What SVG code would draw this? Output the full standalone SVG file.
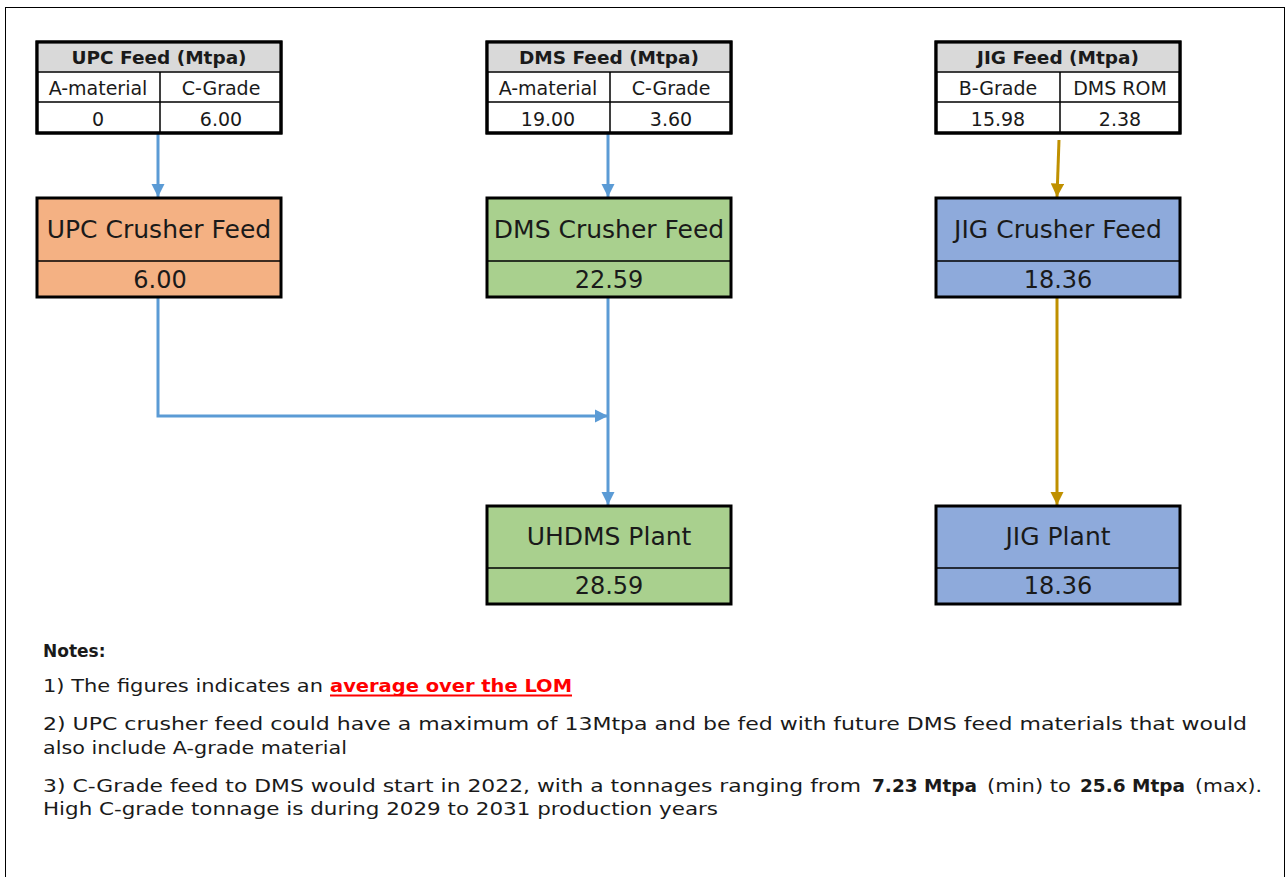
<svg xmlns="http://www.w3.org/2000/svg" width="1287" height="877" viewBox="0 0 1287 877">
<defs>
<style>
text{font-family:"DejaVu Sans","Liberation Sans",sans-serif;fill:#1a1a1a}
.tb{fill:#fff;stroke:#000;stroke-width:3}
.hd{fill:#d9d9d9}
.ln{stroke:#000;stroke-width:1.5;fill:none}
.th{font-size:18.5px;font-weight:bold;text-anchor:middle}
.tc{font-size:19px;text-anchor:middle}
.bx{stroke:#000;stroke-width:3}
.bt{font-size:25px;text-anchor:middle}
.bv{font-size:24px;text-anchor:middle}
.note{font-size:17px}
.blue{stroke:#5b9bd5;stroke-width:3;fill:none}
.gold{stroke:#bf9000;stroke-width:3;fill:none}
</style>
<marker id="ab" viewBox="0 0 10 10" refX="10" refY="5" markerWidth="4.5" markerHeight="4.5" orient="auto" markerUnits="strokeWidth"><path d="M0,0 L10,5 L0,10 z" fill="#5b9bd5"/></marker>
<marker id="ag" viewBox="0 0 10 10" refX="10" refY="5" markerWidth="4.5" markerHeight="4.5" orient="auto" markerUnits="strokeWidth"><path d="M0,0 L10,5 L0,10 z" fill="#bf9000"/></marker>
</defs>
<rect x="5.5" y="7.5" width="1279" height="880" fill="#fff" stroke="#000" stroke-width="1"/>

<g id="connectors">
<path class="blue" d="M158,134 V197" marker-end="url(#ab)"/>
<path class="blue" d="M608,134 V197" marker-end="url(#ab)"/>
<path class="gold" d="M1059,140 L1057,197" marker-end="url(#ag)"/>
<path class="blue" d="M158,298 V416 H608" marker-end="url(#ab)"/>
<path class="blue" d="M608,298 V505" marker-end="url(#ab)"/>
<path class="gold" d="M1057,298 V505" marker-end="url(#ag)"/>
</g>

<g id="upc-feed">
<rect class="tb" x="37" y="42" width="244" height="91"/>
<rect class="hd" x="38.5" y="43.5" width="241" height="28"/>
<path class="ln" d="M37,72 H281 M37,102 H281 M160,72 V133"/>
<rect x="37" y="42" width="244" height="91" fill="none" stroke="#000" stroke-width="3"/>
<text class="th" x="159" y="64">UPC Feed (Mtpa)</text>
<text class="tc" x="98" y="95">A-material</text>
<text class="tc" x="221" y="95">C-Grade</text>
<text class="tc" x="98" y="126">0</text>
<text class="tc" x="221" y="126">6.00</text>
</g>

<g id="dms-feed">
<rect class="tb" x="487" y="42" width="244" height="91"/>
<rect class="hd" x="488.5" y="43.5" width="241" height="28"/>
<path class="ln" d="M487,72 H731 M487,102 H731 M610,72 V133"/>
<rect x="487" y="42" width="244" height="91" fill="none" stroke="#000" stroke-width="3"/>
<text class="th" x="609" y="64">DMS Feed (Mtpa)</text>
<text class="tc" x="548" y="95">A-material</text>
<text class="tc" x="671" y="95">C-Grade</text>
<text class="tc" x="548" y="126">19.00</text>
<text class="tc" x="671" y="126">3.60</text>
</g>

<g id="jig-feed">
<rect class="tb" x="936" y="42" width="244" height="91"/>
<rect class="hd" x="937.5" y="43.5" width="241" height="28"/>
<path class="ln" d="M936,72 H1180 M936,102 H1180 M1060,72 V133"/>
<rect x="936" y="42" width="244" height="91" fill="none" stroke="#000" stroke-width="3"/>
<text class="th" x="1058" y="64">JIG Feed (Mtpa)</text>
<text class="tc" x="998" y="95">B-Grade</text>
<text class="tc" x="1120" y="95">DMS ROM</text>
<text class="tc" x="998" y="126">15.98</text>
<text class="tc" x="1120" y="126">2.38</text>
</g>

<g id="upc-crusher">
<rect class="bx" x="37" y="198" width="244" height="99" fill="#f4b183"/>
<path class="ln" d="M37,261 H281"/>
<text class="bt" x="159" y="238">UPC Crusher Feed</text>
<text class="bv" x="160" y="288">6.00</text>
</g>

<g id="dms-crusher">
<rect class="bx" x="487" y="198" width="244" height="99" fill="#a9d08e"/>
<path class="ln" d="M487,261 H731"/>
<text class="bt" x="609" y="238">DMS Crusher Feed</text>
<text class="bv" x="609" y="288">22.59</text>
</g>

<g id="jig-crusher">
<rect class="bx" x="936" y="198" width="244" height="99" fill="#8eaadb"/>
<path class="ln" d="M936,261 H1180"/>
<text class="bt" x="1058" y="238">JIG Crusher Feed</text>
<text class="bv" x="1058" y="288">18.36</text>
</g>

<g id="uhdms-plant">
<rect class="bx" x="487" y="506" width="244" height="98" fill="#a9d08e"/>
<path class="ln" d="M487,568 H731"/>
<text class="bt" x="609" y="545">UHDMS Plant</text>
<text class="bv" x="609" y="594">28.59</text>
</g>

<g id="jig-plant">
<rect class="bx" x="936" y="506" width="244" height="98" fill="#8eaadb"/>
<path class="ln" d="M936,568 H1180"/>
<text class="bt" x="1058" y="545">JIG Plant</text>
<text class="bv" x="1058" y="594">18.36</text>
</g>

<g id="notes">
<text class="note" x="43" y="657" font-weight="bold">Notes:</text>
<text class="note" x="43" y="692" textLength="280" lengthAdjust="spacingAndGlyphs">1) The figures indicates an</text>
<text class="note" x="330" y="692" font-weight="bold" style="fill:#ff0000" textLength="242" lengthAdjust="spacingAndGlyphs">average over the LOM</text>
<line x1="330" y1="695.5" x2="572" y2="695.5" stroke="#ff0000" stroke-width="2"/>
<text class="note" x="43" y="730" textLength="1204" lengthAdjust="spacingAndGlyphs">2)  UPC crusher feed could have a maximum of 13Mtpa and be fed with future DMS feed materials that would</text>
<text class="note" x="43" y="754" textLength="304" lengthAdjust="spacingAndGlyphs">also include A-grade material</text>
<text class="note" x="43" y="792" textLength="818" lengthAdjust="spacingAndGlyphs">3)  C-Grade feed to DMS would start in 2022, with a tonnages ranging from</text>
<text class="note" x="872" y="792" font-weight="bold" textLength="105" lengthAdjust="spacingAndGlyphs">7.23 Mtpa</text>
<text class="note" x="987" y="792" textLength="84" lengthAdjust="spacingAndGlyphs">(min) to</text>
<text class="note" x="1080" y="792" font-weight="bold" textLength="105" lengthAdjust="spacingAndGlyphs">25.6 Mtpa</text>
<text class="note" x="1195" y="792" textLength="67" lengthAdjust="spacingAndGlyphs">(max).</text>
<text class="note" x="43" y="815" textLength="675" lengthAdjust="spacingAndGlyphs">High C-grade tonnage is during 2029 to 2031 production years</text>
</g>
</svg>
